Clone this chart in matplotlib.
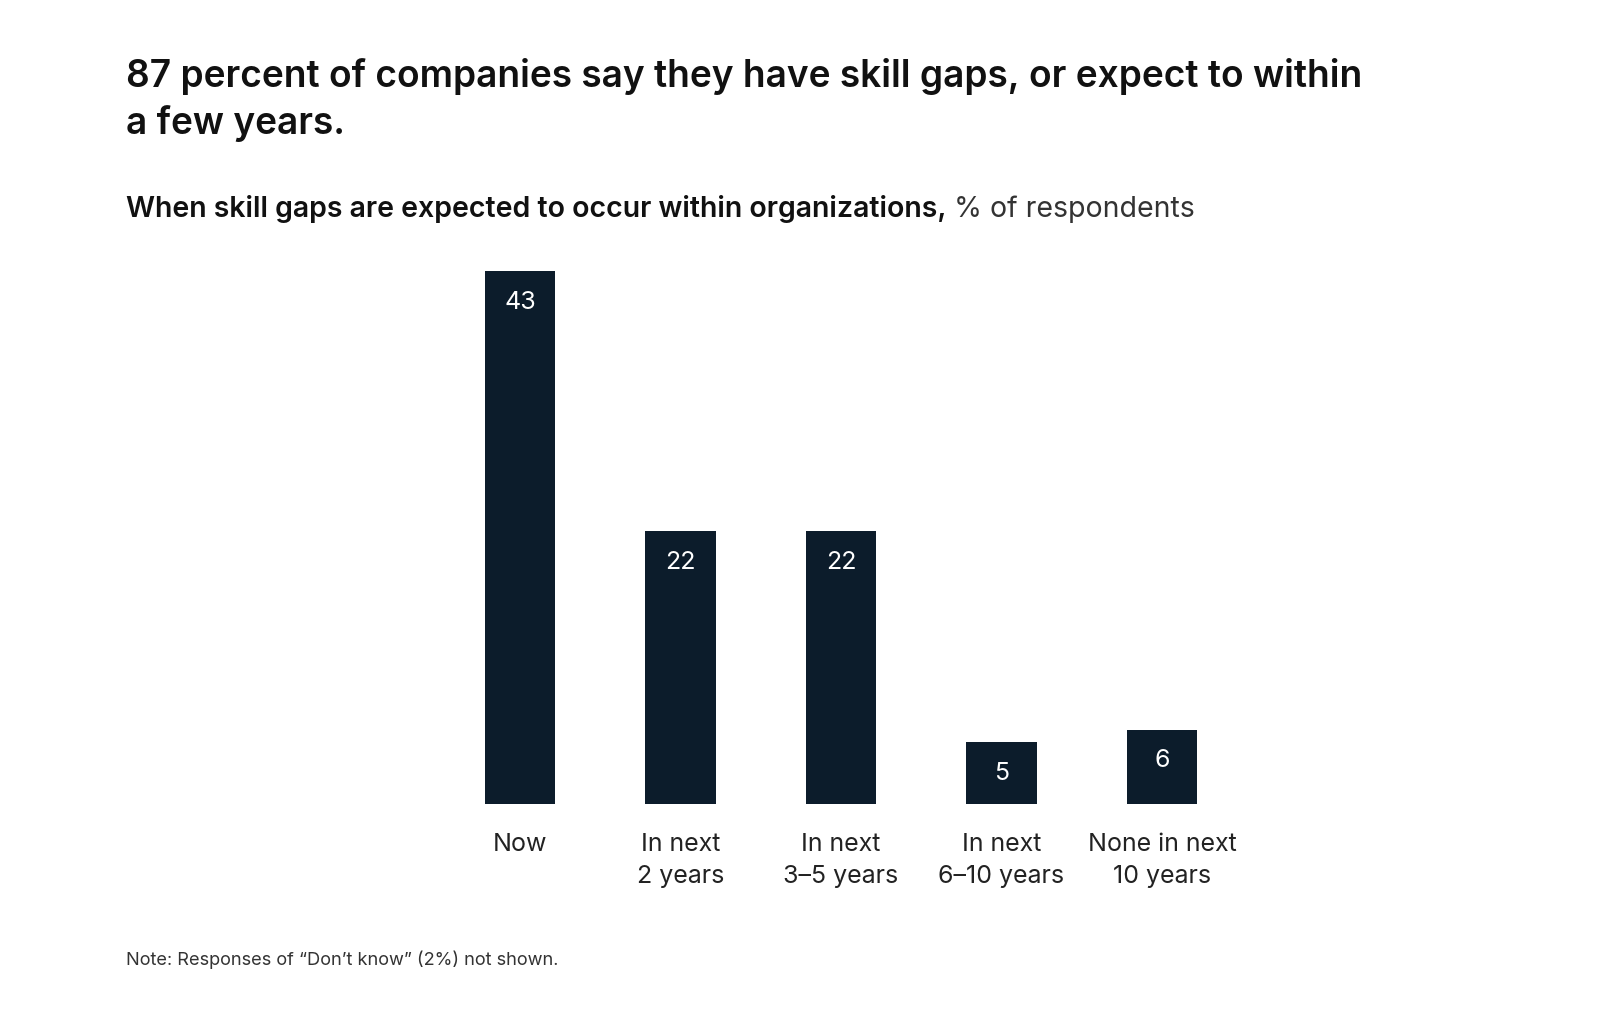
import matplotlib
matplotlib.use("Agg")
import matplotlib.pyplot as plt

categories = ["Now", "In next\n2 years", "In next\n3–5 years", "In next\n6–10 years", "None in next\n10 years"]
values = [43, 22, 22, 5, 6]

plt.rcParams['font.family'] = ['Inter', 'DejaVu Sans']

W, H = 1600, 1013
fig = plt.figure(figsize=(W / 100, H / 100), dpi=100)

# axes placed in pixel terms
left, bottom = 423.7, 209
width, height = 834.6, 533
ax = fig.add_axes([left / W, bottom / H, width / W, height / H])

bar_color = "#0c1c2b"
x = range(len(values))
bars = ax.bar(x, values, width=0.44, color=bar_color)
ax.set_xlim(-0.6, 4.6)
ax.set_ylim(0, 43)

for b, v in zip(bars, values):
    ax.annotate(str(v), (b.get_x() + b.get_width() / 2, v), xytext=(0, -31),
                textcoords="offset pixels", ha="center", va="center",
                color="white", fontsize=18)

ax.set_xticks(list(x))
ax.set_xticklabels(categories, fontsize=18, color="#222222", linespacing=1.5, va="top")
ax.tick_params(axis="x", length=0, pad=21)
ax.set_yticks([])
for s in ax.spines.values():
    s.set_visible(False)

fig.text(126 / W, 1 - 100 / H, "87 percent of companies say they have skill gaps, or expect to within\na few years.",
         fontsize=26.7, fontweight="semibold", va="center", ha="left", linespacing=1.38, color="#111111")

t1 = fig.text(126 / W, 1 - 209 / H, "When skill gaps are expected to occur within organizations,",
              fontsize=20.5, fontweight="semibold", va="center", ha="left", color="#111111")
fig.canvas.draw()
bb = t1.get_window_extent()
fig.text((bb.x1 + 7) / W, 1 - 209 / H, "% of respondents",
         fontsize=20.5, va="center", ha="left", color="#333333")

fig.text(126 / W, 1 - 960 / H, "Note: Responses of \u201cDon\u2019t know\u201d (2%) not shown.",
         fontsize=13.1, va="center", ha="left", color="#333333")

fig.savefig("out.png", dpi=100, facecolor="white")
